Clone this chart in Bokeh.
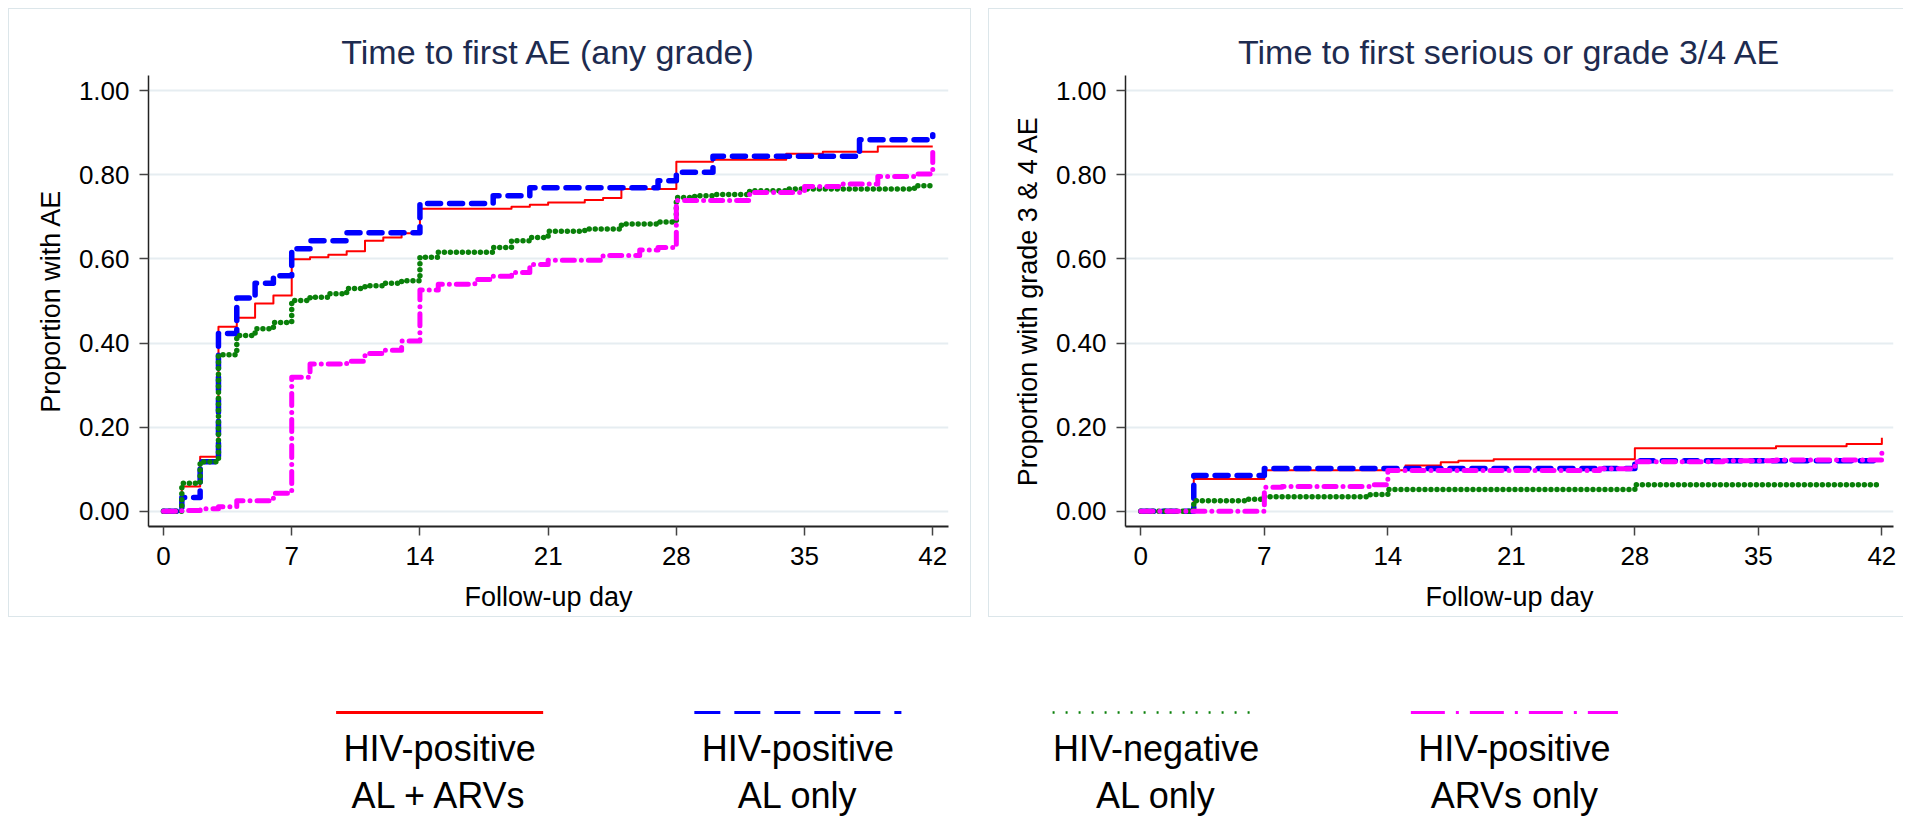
from bokeh.plotting import figure
from bokeh.layouts import row, column
from bokeh.models import Range1d, FixedTicker, PrintfTickFormatter, ColumnDataSource, FactorRange
from bokeh.transform import dodge
from bokeh.core.properties import value
from bokeh.embed import file_html
from bokeh.resources import INLINE

FONT = "Liberation Sans"

# ---------------- data ----------------
x_ticks = [0, 7, 14, 21, 28, 35, 42]
y_ticks = [0.0, 0.2, 0.4, 0.6, 0.8, 1.0]

titles = ["Time to first AE (any grade)", "Time to first serious or grade 3/4 AE"]
y_labels = ["Proportion with AE", "Proportion with grade 3 & 4 AE"]
x_label = "Follow-up day"

groups = ["HIV-positive AL + ARVs", "HIV-positive AL only", "HIV-negative AL only", "HIV-positive ARVs only"]
legend_line1 = ["HIV-positive", "HIV-positive", "HIV-negative", "HIV-positive"]
legend_line2 = ["AL + ARVs", "AL only", "AL only", "ARVs only"]

# Panel 1: any grade AE (Kaplan-Meier failure, step after each day)
any_red_days = [0, 1, 2, 3, 4, 5, 6, 7, 8, 9, 10, 11, 12, 13, 14, 19, 20, 21, 23, 24, 25, 28, 30, 34, 36, 39, 42]
any_red_vals = [0, .059, .130, .439, .460, .494, .513, .599, .604, .610, .618, .643, .651, .661, .719, .724, .729,
                .734, .740, .745, .766, .831, .836, .850, .855, .867, .867]

any_blue_days = [0, 1, 2, 3, 4, 5, 6, 7, 8, 10, 14, 18, 20, 27, 28, 30, 38, 42]
any_blue_vals = [0, .033, .118, .423, .507, .542, .560, .624, .643, .662, .732, .750, .769, .786, .806, .844, .883, .895]

any_green_days = [0, 1, 2, 3, 4, 5, 6, 7, 8, 9, 10, 11, 12, 13, 14, 15, 18, 19, 20, 21, 23, 25, 27, 28, 29, 30, 32,
                  34, 41, 42]
any_green_vals = [0, .067, .118, .372, .418, .434, .449, .501, .509, .517, .530, .536, .542, .548, .604, .616, .627,
                  .643, .651, .666, .671, .683, .688, .746, .750, .753, .762, .766, .774, .776]

any_mag_days = [0, 1, 2, 3, 4, 6, 7, 8, 10, 11, 12, 13, 14, 15, 17, 18, 19, 20, 21, 24, 26, 27, 28, 32, 35, 37, 39, 41, 42]
any_mag_vals = [0, .002, .006, .011, .025, .043, .319, .350, .357, .375, .383, .405, .526, .540, .551, .559, .568,
                .587, .597, .608, .621, .627, .739, .758, .772, .778, .796, .802, .853]

# Panel 2: serious or grade 3/4 AE
sev_red_days = [0, 3, 7, 15, 17, 18, 20, 28, 36, 40, 42]
sev_red_vals = [0, .077, .098, .109, .117, .120, .124, .150, .155, .160, .175]

sev_blue_days = [0, 3, 7, 28, 42]
sev_blue_vals = [0, .085, .102, .120, .120]

sev_green_days = [0, 3, 6, 7, 13, 14, 28, 42]
sev_green_vals = [0, .025, .029, .035, .040, .052, .063, .063]

sev_mag_days = [0, 7, 8, 13, 14, 26, 28, 33, 36, 42]
sev_mag_vals = [0, .057, .059, .063, .097, .101, .118, .120, .122, .142]

# ---------------- styles ----------------
colors = ["#ff0000", "#0000ff", "#0a800a", "#ff00ff"]
plot_styles = [
    dict(line_width=2, line_dash="solid", line_cap="butt"),
    dict(line_width=5.5, line_dash="13 9", line_cap="round"),
    dict(line_width=5.5, line_dash="0 6", line_cap="round"),
    dict(line_width=5, line_dash="12 7 0 7", line_cap="round"),
]
legend_styles = [
    dict(line_width=3, line_dash="solid"),
    dict(line_width=3, line_dash="26 14"),
    dict(line_width=2.5, line_dash="2 11"),
    dict(line_width=3, line_dash="34 11 3 11"),
]
TITLE_COLOR = "#1d2b50"
GRID_COLOR = "#e6edf1"
BORDER = "1px solid #dce6ea"
PANEL_H = 609


def make_panel(title, ylabel, series, width, min_left, min_right, x_start, x_end, styles):
    p = figure(width=width, height=PANEL_H, output_backend="svg", toolbar_location=None,
               x_range=Range1d(x_start, x_end), y_range=Range1d(-0.036, 1.036),
               min_border_left=min_left, min_border_right=min_right,
               min_border_top=66, min_border_bottom=92,
               outline_line_color=None, background_fill_color="white", border_fill_color="white")
    p.styles = styles
    p.title.text = title
    p.title.align = "center"
    p.title.text_font = FONT
    p.title.text_font_size = "34px"
    p.title.text_font_style = "normal"
    p.title.text_color = TITLE_COLOR
    p.title.standoff = 10

    for (days, vals), c, st in zip(series, colors, plot_styles):
        p.step(days, vals, mode="after", line_color=c, line_join="round", **st)

    p.xaxis.ticker = FixedTicker(ticks=x_ticks, minor_ticks=[])
    p.yaxis.ticker = FixedTicker(ticks=y_ticks, minor_ticks=[])
    p.yaxis.formatter = PrintfTickFormatter(format="%.2f")
    p.xaxis.axis_label = x_label
    p.yaxis.axis_label = ylabel
    for ax in (p.xaxis, p.yaxis):
        ax.axis_label_text_font = FONT
        ax.axis_label_text_font_size = "27px"
        ax.axis_label_text_font_style = "normal"
        ax.axis_label_text_color = "black"
        ax.major_label_text_font = FONT
        ax.major_label_text_font_size = "26px"
        ax.major_label_text_color = "black"
        ax.major_tick_out = 9
        ax.major_tick_in = 0
        ax.minor_tick_out = 0
        ax.minor_tick_in = 0
        ax.major_tick_line_color = "#444444"
        ax.major_tick_line_width = 1.5
        ax.axis_line_color = "#222222"
    p.xaxis.axis_line_width = 2
    p.yaxis.axis_line_width = 1.5
    p.xaxis.major_label_standoff = 11
    p.yaxis.major_label_standoff = 10
    p.xaxis.axis_label_standoff = 14
    p.yaxis.axis_label_standoff = 10
    p.xgrid.visible = False
    p.ygrid.ticker = FixedTicker(ticks=y_ticks, minor_ticks=[])
    p.ygrid.grid_line_color = GRID_COLOR
    p.ygrid.grid_line_width = 2
    return p


left = make_panel(titles[0], y_labels[0],
                  [(any_red_days, any_red_vals), (any_blue_days, any_blue_vals),
                   (any_green_days, any_green_vals), (any_mag_days, any_mag_vals)],
                  963, 139, 24, -0.82, 42.86, {"border": BORDER})
right = make_panel(titles[1], y_labels[1],
                   [(sev_red_days, sev_red_vals), (sev_blue_days, sev_blue_vals),
                    (sev_green_days, sev_green_vals), (sev_mag_days, sev_mag_vals)],
                   915, 136, 11, -0.87, 42.66,
                   {"border-left": BORDER, "border-top": BORDER, "border-bottom": BORDER})

# ---------------- legend ----------------
LEG_H = 203
lx = FactorRange(factors=groups, range_padding=0)
lp = figure(width=1705, height=LEG_H, x_range=lx, y_range=Range1d(LEG_H, 0), title=None,
            min_border_left=252, min_border_right=20, min_border_top=0, min_border_bottom=0,
            x_axis_location=None, y_axis_location=None, output_backend="svg", toolbar_location=None,
            outline_line_color=None)
lp.grid.visible = False
LINE_Y = 95
for g, c, st in zip(groups, colors, legend_styles):
    src = ColumnDataSource(dict(grp=[g]))
    lp.segment(x0=dodge("grp", -0.289, range=lx), y0=LINE_Y, x1=dodge("grp", 0.289, range=lx), y1=LINE_Y,
               source=src, line_color=c, line_cap="butt", **st)
tsrc = ColumnDataSource(dict(grp=groups, l1=legend_line1, l2=legend_line2))
for fld, yy in (("l1", 131), ("l2", 178)):
    lp.text(x="grp", y=yy, text=fld, source=tsrc, text_align="center", text_baseline="alphabetic",
            text_font=value(FONT), text_font_size="36px", text_color="black")

layout = column(row(left, right, spacing=17), lp, spacing=0)
layout.styles = {"margin-left": "8px", "margin-top": "8px"}
open("out.html", "w").write(file_html(layout, INLINE))
